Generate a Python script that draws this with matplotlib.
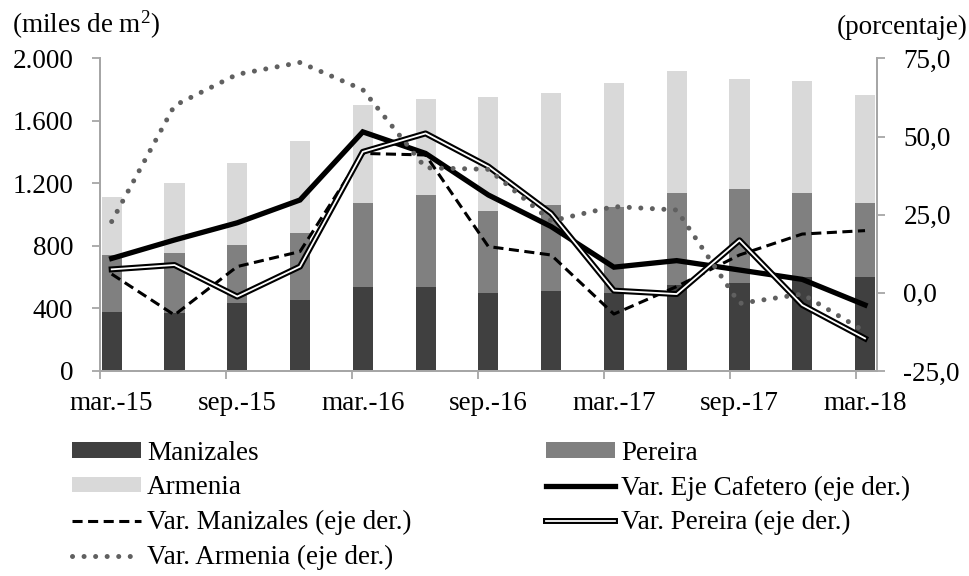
import numpy as np
import matplotlib
matplotlib.use("Agg")
import matplotlib.pyplot as plt
import matplotlib.patheffects as pe

plt.rcParams['font.family'] = ['Liberation Serif', 'DejaVu Serif']
plt.rcParams['mathtext.fontset'] = 'custom'
plt.rcParams['mathtext.rm'] = 'Liberation Serif'
plt.rcParams['mathtext.it'] = 'Liberation Serif:italic'

# quarters mar-15 .. mar-18
periods = ["mar.-15", "jun.-15", "sep.-15", "dic.-15", "mar.-16", "jun.-16", "sep.-16",
           "dic.-16", "mar.-17", "jun.-17", "sep.-17", "dic.-17", "mar.-18"]
tick_labels = ["mar.-15", "sep.-15", "mar.-16", "sep.-16", "mar.-17", "sep.-17", "mar.-18"]

# area (miles de m2)
manizales = [375, 370, 437, 452, 539, 539, 501, 514, 500, 550, 565, 599, 603]
pereira = [367, 387, 371, 433, 536, 587, 522, 550, 547, 588, 599, 539, 472]
armenia = [373, 443, 522, 586, 624, 612, 727, 714, 793, 779, 702, 715, 690]

# annual variation (%)
var_eje = [11.0, 16.9, 22.4, 29.7, 51.5, 44.6, 31.3, 21.2, 8.2, 10.3, 7.3, 4.3, -3.9]
var_manizales = [6.0, -7.1, 8.4, 13.2, 44.6, 44.1, 14.8, 12.1, -6.8, 2.0, 12.1, 18.8, 19.9]
var_pereira = [7.5, 8.9, -1.2, 8.4, 45.1, 51.0, 40.4, 25.4, 0.7, -0.4, 16.8, -3.9, -14.6]
var_armenia = [22.8, 59.9, 69.9, 73.7, 65.0, 40.0, 39.5, 23.0, 27.6, 26.5, -3.4, -0.4, -12.4]

x = np.arange(len(periods))
man = np.array(manizales)
per = np.array(pereira)
arm = np.array(armenia)

fig = plt.figure(figsize=(9.69, 5.76), dpi=100)
ax = fig.add_axes([0.1032, 0.356, 0.8018, 0.5426])
ax2 = ax.twinx()

bw = 0.32
b1 = ax.bar(x, man, bw, color="#404040", label="Manizales", zorder=2)
b2 = ax.bar(x, per, bw, bottom=man, color="#808080", label="Pereira", zorder=2)
b3 = ax.bar(x, arm, bw, bottom=man + per, color="#d9d9d9", label="Armenia", zorder=2)

l_eje, = ax2.plot(x, var_eje, color="black", lw=3.8, solid_joinstyle="miter",
                  label="Var. Eje Cafetero (eje der.)")
l_man, = ax2.plot(x, var_manizales, color="black", lw=2.2, ls=(0, (3.3, 1.8)),
                  label="Var. Manizales (eje der.)")
l_per, = ax2.plot(x, var_pereira, color="white", lw=1.3,
                  path_effects=[pe.Stroke(linewidth=4.3, foreground="black"), pe.Normal()],
                  label="Var. Pereira (eje der.)")
l_arm, = ax2.plot(x, var_armenia, color="#606060", lw=3.6, ls=(0, (0.01, 2.3)),
                  dash_capstyle="round", label="Var. Armenia (eje der.)")

x_left, x_right = -0.186, 12.19
ax.set_xlim(x_left, x_right)
ax.set_ylim(0, 2000)
ax2.set_ylim(-25, 75)

ax.set_xticks(x[::2])
ax.set_xticklabels(tick_labels)
ax.set_xticks(np.linspace(x_left, 11.85, 7), minor=True)
ax.set_yticks(range(0, 2001, 400))
ax.set_yticklabels([f"{v:,}".replace(",", ".") for v in range(0, 2001, 400)])
ax2.set_yticks(range(-25, 76, 25))
ax2.set_yticklabels([f"{v:.1f}".replace(".", ",") for v in range(-25, 76, 25)])

fs = 19.5
for a in (ax, ax2):
    a.tick_params(colors="#a6a6a6", labelcolor="black", labelsize=fs, length=6, width=1.3)
    for s in a.spines.values():
        s.set_color("#a6a6a6")
        s.set_linewidth(1.3)
    a.spines["top"].set_visible(False)
ax.tick_params(axis="x", which="major", length=0, pad=14.8)
ax.tick_params(axis="x", which="minor", length=6, width=1.3, color="#a6a6a6")
ax.tick_params(axis="y", pad=13.2)
ax2.tick_params(axis="y", pad=13)

fig.text(0.012, 0.957, r"(miles de m$^{\mathrm{2}}$)", fontsize=fs, ha="left", va="center")
fig.text(0.999, 0.952, "(porcentaje)", fontsize=fs, ha="right", va="center")

handles = [b1, b3, l_man, l_arm, b2, l_eje, l_per]
fig.legend(handles=handles, labels=[h.get_label() for h in handles], ncol=2,
           loc="upper left", bbox_to_anchor=(0.0743, 0.235), frameon=False,
           fontsize=fs, handlelength=2.55, handleheight=0.48, handletextpad=0.22,
           columnspacing=4.98, labelspacing=0.36, borderaxespad=0, borderpad=0)

fig.savefig("out.png", dpi=100)
